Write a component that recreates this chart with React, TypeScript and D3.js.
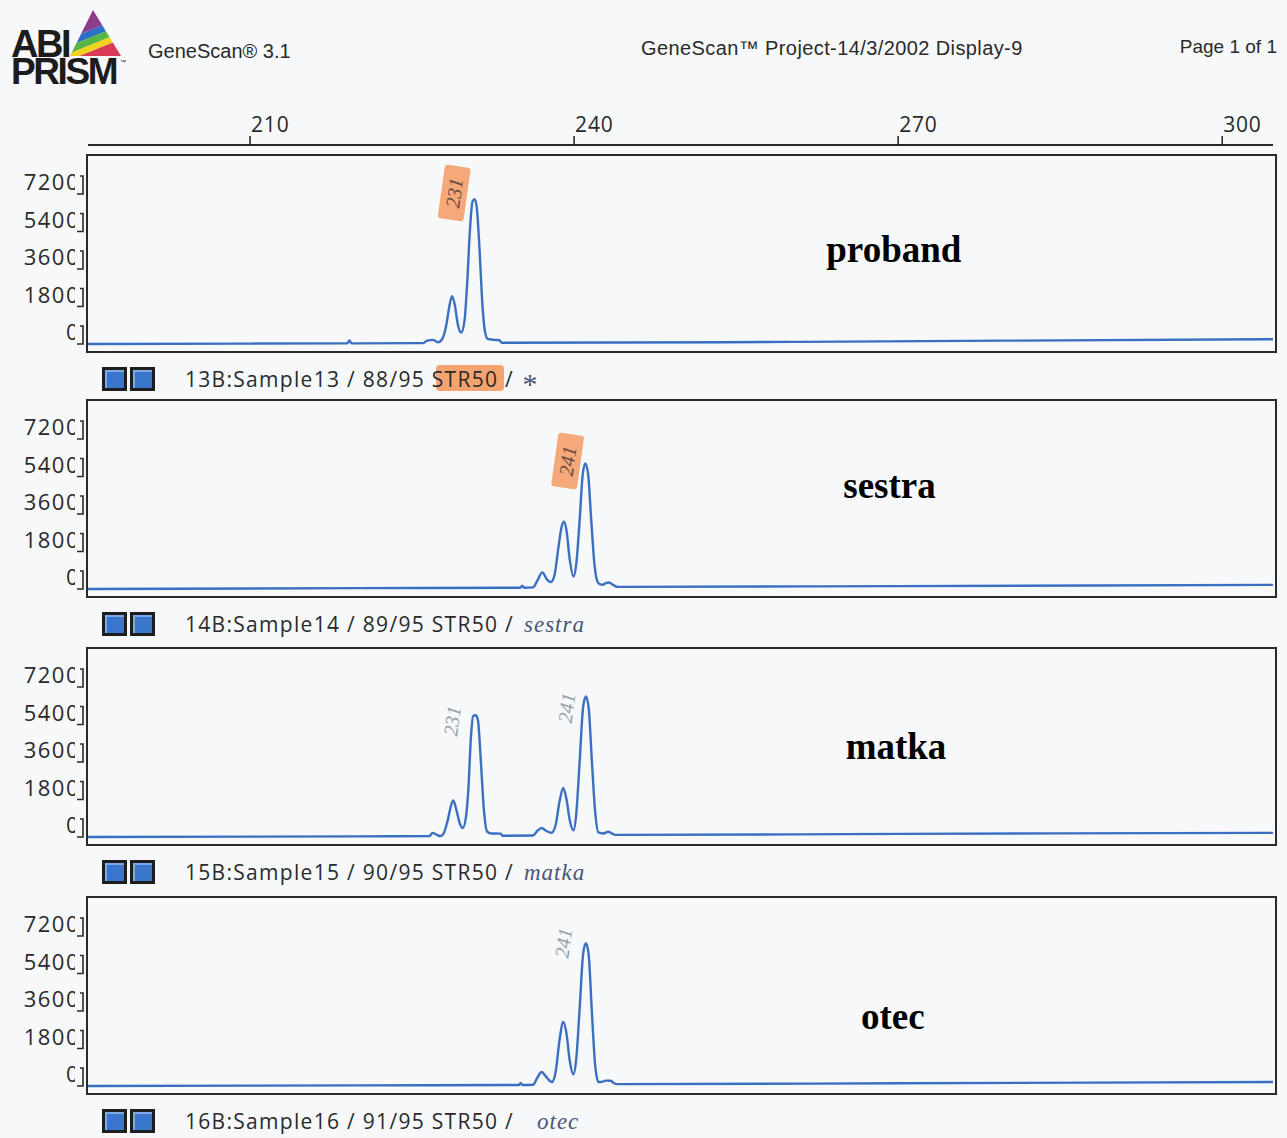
import * as d3 from 'd3';

// top size axis (bp)
const sizeTicks = [210, 240, 270, 300];
const sizeDomain = [195, 304.7];
// RFU axis
const rfuTicks = [0, 1800, 3600, 5400, 7200];

const sampleHeads = [
  '13B:Sample13 / 88/95 ',
  '14B:Sample14 / 89/95 ',
  '15B:Sample15 / 90/95 ',
  '16B:Sample16 / 91/95 ',
];
const markerName = 'STR50';
const handNotes = ['*', 'sestra', 'matka', 'otec'];
const panelNames = ['proband', 'sestra', 'matka', 'otec'];

// traces: [size bp, RFU]
const probandTrace: [number, number][] = [
  [195, 0], [210, 20], [219.0, 30], [219.2, 170], [219.4, 30], [226.0, 40], [226.4, 160],
  [226.9, 200], [227.4, 80], [227.8, 250], [228.2, 1000], [228.45, 1800], [228.7, 2300],
  [228.95, 1900], [229.25, 900], [229.55, 550], [229.85, 1100], [230.1, 2900], [230.35, 5400],
  [230.6, 6850], [230.8, 6950], [231.0, 6500], [231.25, 4500], [231.5, 2000], [231.75, 600],
  [232.0, 250], [232.6, 200], [233.1, 180], [233.3, 60], [260, 100], [280, 160], [304.7, 230],
];
const sestraTrace: [number, number][] = [
  [195, 0], [220, 40], [235.0, 60], [235.2, 160], [235.4, 60], [236.2, 80], [236.6, 400],
  [237.06, 800], [237.5, 450], [237.85, 330], [238.2, 700], [238.55, 2000], [238.85, 3000],
  [239.06, 3230], [239.3, 2800], [239.6, 1400], [239.95, 600], [240.2, 1200], [240.5, 3200],
  [240.8, 5500], [241.05, 6030], [241.3, 5500], [241.6, 3200], [241.9, 1100], [242.25, 280],
  [242.6, 200], [243.0, 290], [243.25, 310], [243.6, 200], [244.0, 100], [270, 140], [304.7, 200],
];
const matkaTrace: [number, number][] = [
  [195, 0], [220, 30], [226.6, 40], [226.9, 200], [227.3, 100], [227.6, 40], [227.9, 150],
  [228.3, 800], [228.6, 1500], [228.82, 1760], [229.1, 1300], [229.45, 600], [229.7, 430],
  [230.0, 1000], [230.2, 2200], [230.45, 4800], [230.65, 5800], [230.9, 5850], [231.1, 5600],
  [231.35, 3800], [231.65, 1300], [231.95, 260], [232.3, 170], [233.2, 160], [233.4, 60],
  [236.2, 70], [236.6, 300], [237.0, 430], [237.4, 300], [237.9, 200], [238.3, 600],
  [238.65, 1700], [239.0, 2350], [239.3, 1800], [239.6, 800], [239.94, 320], [240.2, 1100],
  [240.5, 3500], [240.85, 6300], [241.1, 6750], [241.35, 6200], [241.65, 3600], [241.95, 1200],
  [242.25, 220], [242.7, 170], [243.15, 250], [243.5, 170], [243.8, 100], [270, 150], [304.7, 200],
];
const otecTrace: [number, number][] = [
  [195, 0], [220, 30], [234.9, 50], [235.06, 150], [235.2, 50], [236.2, 60], [236.6, 400],
  [237.0, 670], [237.4, 450], [237.94, 190], [238.3, 700], [238.65, 2200], [239.0, 3070],
  [239.3, 2500], [239.6, 1200], [239.94, 560], [240.2, 1300], [240.5, 3600], [240.85, 6400],
  [241.1, 6850], [241.35, 6300], [241.65, 3500], [241.95, 1000], [242.25, 190], [242.6, 200],
  [242.9, 260], [243.4, 250], [243.7, 130], [244.0, 90], [270, 130], [304.7, 190],
];
const traces = [probandTrace, sestraTrace, matkaTrace, otecTrace];

// allele calls written on the printout (bp position of the note, text, orange sticker or pencil)
const alleleNotes = [
  [{ bp: 228.9, text: '231', tag: true, dy: 38 }],
  [{ bp: 239.4, text: '241', tag: true, dy: 61 }],
  [{ bp: 228.7, text: '231', tag: false, dy: 73 }, { bp: 239.3, text: '241', tag: false, dy: 60 }],
  [{ bp: 239.0, text: '241', tag: false, dy: 46 }],
];

const W = 1287;
const H = 1138;
const panelTops = [155, 400, 648, 897];
const panelH = 197;
const boxLeft = 87;
const boxRight = 1276;
const nameDy = [107, 98, 111, 132];
const nameBp = [269.6, 269.2, 269.8, 269.5];

const sansUI = '"Open Sans", "DejaVu Sans", sans-serif';
const sansHdr = '"Liberation Sans", Arial, sans-serif';
const hand = '"Liberation Serif", serif';

function Logo() {
  const stripes = [
    { c: '#8e3b8c', y0: -10, y1: 29 },
    { c: '#2f6fc6', y0: 29, y1: 36 },
    { c: '#58b548', y0: 36, y1: 43 },
    { c: '#f1d21c', y0: 43, y1: 49 },
    { c: '#d93b57', y0: 49, y1: 80 },
  ];
  return (
    <g>
      <defs>
        <clipPath id="tri">
          <polygon points="93,10 70,56 121,56" />
        </clipPath>
      </defs>
      <g clipPath="url(#tri)">
        <g transform="rotate(-22 95 40)">
          {stripes.map((s) => (
            <rect key={s.c} x={40} y={s.y0} width={110} height={s.y1 - s.y0} fill={s.c} />
          ))}
        </g>
      </g>
      <text fontFamily={sansHdr} fontWeight="bold" fill="#1c1c1c">
        <tspan x={11} y={57} fontSize={38} letterSpacing={-2.5}>ABI</tspan>
        <tspan x={11} y={84} fontSize={37} letterSpacing={-2.4}>PRISM</tspan>
        <tspan x={120} y={64} fontSize={6} fontWeight="normal">™</tspan>
      </text>
    </g>
  );
}

function Panel({ i }: { i: number }) {
  const top = panelTops[i];
  const bottom = top + panelH;
  const x = d3.scaleLinear().domain(sizeDomain).range([88, 1273]);
  const y = d3.scaleLinear().domain([0, 7200]).range([top + 189, top + 39]);
  const line = d3
    .line<[number, number]>()
    .x((d) => x(d[0]))
    .y((d) => y(d[1]))
    .curve(d3.curveMonotoneX);
  const clipId = `lbl${i}`;
  return (
    <g>
      <defs>
        <clipPath id={clipId}>
          <rect x={0} y={top} width={75} height={panelH} />
        </clipPath>
      </defs>
      <rect x={boxLeft} y={top} width={boxRight - boxLeft} height={panelH} fill="none" stroke="#2a2a2a" strokeWidth={2} />
      {rfuTicks.map((t) => {
        const ty = y(t);
        return (
          <g key={t}>
            <path d={`M77,${ty}H83V${ty - 18}H80`} fill="none" stroke="#2a2a2a" strokeWidth={1.6} />
            <text x={80} y={ty - 4} textAnchor="end" fontFamily={sansUI} fontSize={22} letterSpacing={1.5} fill="#2a2a2a" clipPath={`url(#${clipId})`}>
              {t}
            </text>
          </g>
        );
      })}
      <path d={line(traces[i]) || ''} fill="none" stroke="#3a6fc2" strokeWidth={2.4} strokeLinejoin="round" />
      {alleleNotes[i].map((n) => {
        const cx = x(n.bp);
        const cy = top + n.dy;
        return (
          <g key={n.text + n.bp} transform={`translate(${cx},${cy}) rotate(-82)`}>
            {n.tag && <rect x={-27} y={-13} width={54} height={26} rx={3} fill="#f59a62" opacity={0.85} />}
            <text x={0} y={7} textAnchor="middle" fontFamily={hand} fontStyle="italic" fontSize={20}
              fill={n.tag ? '#6a4a3a' : '#93a0ab'}>
              {n.text}
            </text>
          </g>
        );
      })}
      <text x={x(nameBp[i])} y={top + nameDy[i]} textAnchor="middle" fontFamily='"Liberation Serif", "Times New Roman", serif' fontWeight="bold" fontSize={37} fill="#000">
        {panelNames[i]}
      </text>
      {/* dye colour chips */}
      {[102, 130].map((bx) => (
        <g key={bx}>
          <rect x={bx} y={bottom + 15} width={25} height={24} fill="#1e1e1e" />
          <rect x={bx + 3} y={bottom + 18} width={19} height={18} fill="#7ea9e4" />
          <rect x={bx + 5} y={bottom + 20} width={17} height={16} fill="#3a76cc" />
        </g>
      ))}
      {i === 0 && <rect x={436} y={bottom + 13} width={68} height={26} rx={4} fill="#f59a62" opacity={0.9} />}
      <text x={185} y={bottom + 35} fontFamily={sansUI} fontSize={21} letterSpacing={1.3} fill="#2a2a2a">
        {sampleHeads[i]}
        <tspan>{markerName}</tspan>
        {' /'}
      </text>
      <text x={i === 0 ? 521 : i === 3 ? 537 : 524} y={bottom + (i === 0 ? 42 : 35)} fontFamily={hand} fontStyle="italic"
        fontSize={i === 0 ? 30 : 23} letterSpacing={1} fill="#4a5577">
        {handNotes[i]}
      </text>
    </g>
  );
}

export default function App() {
  const x = d3.scaleLinear().domain(sizeDomain).range([88, 1273]);
  const axisY = 145;
  return (
    <svg width={W} height={H} style={{ position: 'absolute', left: 0, top: 0, background: '#f6f8fa' }}>
      <rect width={W} height={H} fill="#f6f8fa" />
      <Logo />
      <text x={148} y={58} fontFamily={sansHdr} fontSize={20} fill="#2a2a2a">GeneScan® 3.1</text>
      <text x={641} y={55} fontFamily={sansHdr} fontSize={20} letterSpacing={0.4} fill="#2a2a2a">GeneScan™ Project-14/3/2002 Display-9</text>
      <text x={1277} y={53} textAnchor="end" fontFamily={sansHdr} fontSize={19} fill="#2a2a2a">Page 1 of 1</text>
      <line x1={x(sizeDomain[0])} x2={x(sizeDomain[1])} y1={axisY} y2={axisY} stroke="#2a2a2a" strokeWidth={2} />
      {sizeTicks.map((t) => (
        <g key={t}>
          <line x1={x(t)} x2={x(t)} y1={axisY} y2={axisY - 9} stroke="#2a2a2a" strokeWidth={1.6} />
          <text x={x(t) + 1} y={132} fontFamily={sansUI} fontSize={21} letterSpacing={0.8} fill="#2a2a2a">{t}</text>
        </g>
      ))}
      {panelTops.map((_, i) => (
        <Panel key={i} i={i} />
      ))}
    </svg>
  );
}
